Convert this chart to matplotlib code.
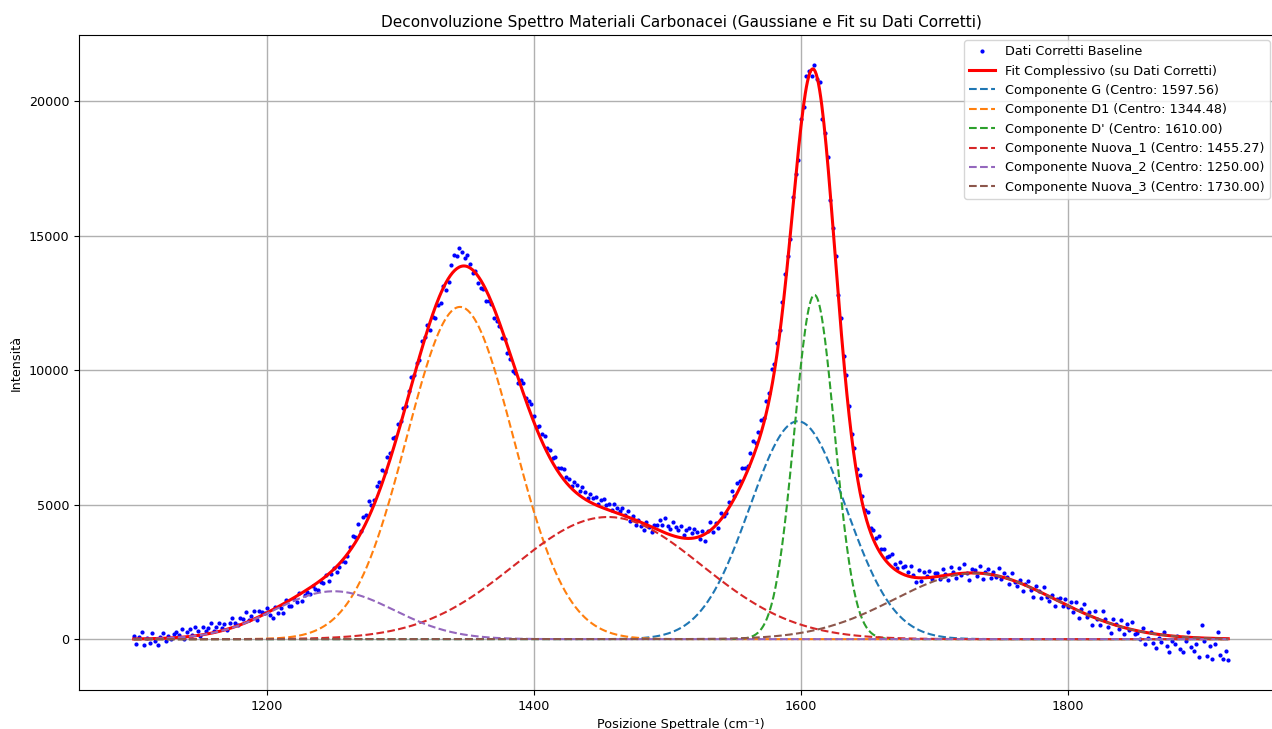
import matplotlib
matplotlib.use("Agg")
import matplotlib.pyplot as plt
import numpy as np

# Fitted gaussian components
comp_names = ["G", "D1", "D'", "Nuova_1", "Nuova_2", "Nuova_3"]
comp_centers = [1597.56, 1344.48, 1610.00, 1455.27, 1250.00, 1730.00]
comp_amps = [8100, 12350, 12800, 4540, 1780, 2450]
comp_sigmas = [36, 40, 15, 70, 45, 60]

x_start, x_end = 1100, 1920

# Baseline-corrected points, stored as deviation from the overall fit
# (one value every 2 cm^-1)
resid = [
    # 1100-1130
    120, -180, 60, 250, -220, 30, -150, 210, -90, -260, 40, 180, -120, 90, -40, 150,
    # 1132-1200
    210, 80, 300, -60, 190, 260, 40, 330, 150, -20, 280, 120, 220, 380, 60, 170, 310, 90,
    240, -40, 200, 350, 130, 20, 260, 180, 400, 70, 150, 290, -80, 220, 110, 30, 170,
    # 1202-1240
    -120, -300, 50, -220, -80, -350, 100, -180, -260, -40, -200, 60, -310, -150, -90,
    -240, 20, -170, -280, -60,
    # 1242-1260
    -180, 40, -250, -90, 60, -200, -120, 10, -160, -60,
    # 1262-1300
    150, 380, 220, 520, 90, 410, 300, 600, 240, 180, 450, 330, 520, 150, 400, 260, 480,
    200, 350, 120,
    # 1302-1320
    250, -50, 180, 320, 40, 150, -100, 260, 90, 200,
    # 1322-1336
    -300, -100, -420, -200, -350, 50, -280, -150,
    # 1338-1352
    350, 600, 480, 700, 520, 300, 420, 150,
    # 1354-1388
    -100, 50, -250, -300, -150, -420, -200, -80, -350, -220, -120, -300, -50, -260, -180,
    -350, -100, -200,
    # 1390-1430
    200, 380, 120, 300, 450, 250, 100, 350, 280, 420, 180, 320, 200, 400, 150, 300, 380,
    220, 260, 100, 330,
    # 1432-1470
    300, 150, 380, 250, 100, 320, 200, 280, 80, 250, 350, 150, 220, 50, 300, 180, 120,
    260, 40, 200,
    # 1472-1490
    -100, 120, -200, 50, -150, -250, 80, -50, -180, 100,
    # 1492-1520
    150, 400, 250, 550, 300, 200, 500, 350, 250, 450, 100, 300, 400, 200, 350,
    # 1522-1544
    200, -100, 150, -250, 50, 300, -150, 100, -200, 250, 0, -50,
    # 1546-1590
    200, 450, 100, 380, 250, 550, 300, 150, 400, 600, 250, 350, 500, 200, 450, 300, 650,
    250, 400, 150, 350, 500, 200,
    # 1592-1624
    -200, 300, 100, -350, 250, -100, 400, 150, -250, 200, -50, 350, -300, 100, 250, -150, 50,
    # 1626-1660
    300, 100, 450, 200, 550, 350, 150, 400, 250, 600, 300, 200, 450, 150, 350, 250, 500, 200,
    # 1662-1700
    350, 150, 300, 500, 200, 100, 400, 250, 350, 150, 400, 100, -150, 300, -100, 200, 50,
    250, -50, 150,
    # 1702-1760
    150, -100, 250, 50, -200, 300, 100, -150, 200, -50, 350, 0, -250, 150, 100, -100, 250,
    -200, 50, 200, -150, 100, -50, 300, -100, 150, 50, -200, 250, -50,
    # 1762-1800
    -150, 100, -250, 50, 200, -100, -300, 150, 0, -200, 250, -50, -150, 100, -250, 50, 150,
    -100, 200, -50,
    # 1802-1850
    200, -150, 300, -250, 100, 350, -100, 150, -300, 250, 0, -200, 350, 100, -150, -350,
    200, 50, -100, 250, -250, 150, -50, 300, -150,
    # 1852-1920
    -100, -300, 150, -450, -200, 50, -350, -500, -150, -250, 100, -400, -600, -200, -300,
    0, -450, -550, -150, 200, -350, -500, -250, -700, 480, -100, -650, -300, -750, -200,
    250, -600, -750, -450, -800,
]


def gaussian(x, amp, cen, sig):
    return amp * np.exp(-(x - cen) ** 2 / (2 * sig ** 2))


x_fit = np.linspace(x_start, x_end, 1000)
components = [gaussian(x_fit, a, c, s)
              for a, c, s in zip(comp_amps, comp_centers, comp_sigmas)]
total_fit = np.sum(components, axis=0)

x_data = np.linspace(x_start, x_end, len(resid))
y_data = np.interp(x_data, x_fit, total_fit) + np.array(resid)

fig = plt.figure(figsize=(12.72, 7.29), dpi=100)
# the original was cropped on the right, so the axes run past the canvas
ax = fig.add_axes([0.0621, 0.0535, 0.9465, 0.8985])

ax.plot(x_data, y_data, "b.", markersize=4, label="Dati Corretti Baseline")
ax.plot(x_fit, total_fit, "r-", linewidth=2.2,
        label="Fit Complessivo (su Dati Corretti)")
for name, cen, comp in zip(comp_names, comp_centers, components):
    ax.plot(x_fit, comp, "--", linewidth=1.5,
            label=f"Componente {name} (Centro: {cen:.2f})")

ax.set_title("Deconvoluzione Spettro Materiali Carbonacei "
             "(Gaussiane e Fit su Dati Corretti)", fontsize=11)
ax.set_xlabel("Posizione Spettrale (cm⁻¹)", fontsize=9.2)
ax.set_ylabel("Intensità", fontsize=9.2)
ax.set_xticks([1200, 1400, 1600, 1800])
ax.tick_params(labelsize=9.2)
ax.grid(True, linewidth=1.0)
ax.legend(loc="upper right", fontsize=9.2,
          bbox_to_anchor=(1270 / 1272, 1 - 40 / 729),
          bbox_transform=fig.transFigure, borderaxespad=0)

fig.savefig("out.png", dpi=100)
plt.close(fig)
